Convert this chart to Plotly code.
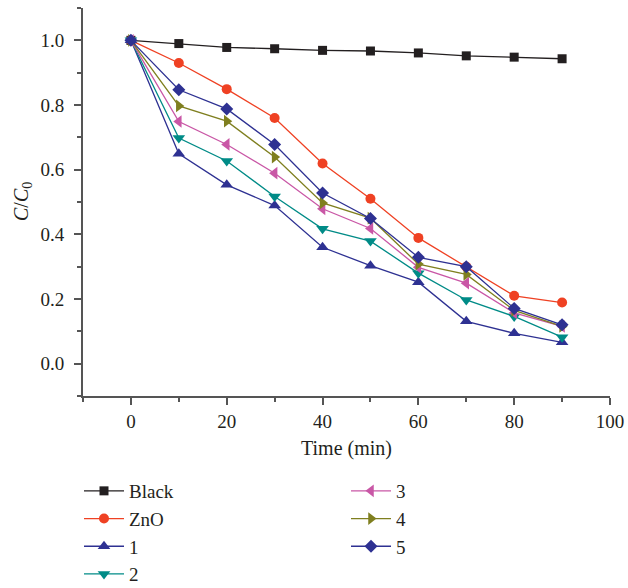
import plotly.graph_objects as go

time = [0, 10, 20, 30, 40, 50, 60, 70, 80, 90]
black = [1.0, 0.99, 0.978, 0.974, 0.969, 0.967, 0.961, 0.952, 0.948, 0.943]
zno = [1.0, 0.93, 0.849, 0.76, 0.619, 0.51, 0.389, 0.30, 0.21, 0.189]
s1 = [1.0, 0.649, 0.553, 0.489, 0.36, 0.303, 0.252, 0.131, 0.094, 0.066]
s2 = [1.0, 0.698, 0.627, 0.517, 0.417, 0.379, 0.28, 0.197, 0.146, 0.082]
s3 = [1.0, 0.749, 0.678, 0.589, 0.479, 0.418, 0.298, 0.249, 0.157, 0.115]
s4 = [1.0, 0.797, 0.75, 0.639, 0.497, 0.45, 0.308, 0.276, 0.165, 0.115]
s5 = [1.0, 0.847, 0.788, 0.678, 0.528, 0.449, 0.329, 0.30, 0.171, 0.12]

names = ["Black", "ZnO", "1", "2", "3", "4", "5"]
series = [black, zno, s1, s2, s3, s4, s5]
colors = ["#231f20", "#ef4123", "#2e3192", "#008b87", "#c957a6", "#7f7f1f", "#2e3192"]
symbols = ["square", "circle", "triangle-up", "triangle-down", "triangle-left", "triangle-right", "diamond"]
sizes = [9, 10, 11, 11, 11, 11, 10]
legends = ["legend", "legend", "legend", "legend", "legend2", "legend2", "legend2"]

FONT = "Liberation Serif"
fig = go.Figure()
for n, y, c, s, sz, lg in zip(names, series, colors, symbols, sizes, legends):
    fig.add_trace(go.Scatter(
        x=time, y=y, name=n, mode="lines+markers",
        line=dict(color=c, width=1.3),
        marker=dict(symbol=s, size=sz, color=c),
        legend=lg, legendgroup=n,
    ))

axis_common = dict(
    showline=True, linecolor="#555555", linewidth=2,
    ticks="outside", ticklen=7, tickwidth=2, tickcolor="#555555",
    showgrid=False, zeroline=False,
    tickfont=dict(family=FONT, size=19, color="#231f20"),
)

legend_common = dict(
    xref="container", yref="container", xanchor="left", yanchor="top",
    orientation="v", tracegroupgap=0, itemwidth=40, bgcolor="rgba(0,0,0,0)",
    font=dict(family=FONT, size=19, color="#231f20"),
)

fig.update_layout(
    width=628, height=588,
    margin=dict(l=83, r=18, t=8, b=192, autoexpand=False),
    paper_bgcolor="white", plot_bgcolor="white",
    font=dict(family=FONT, size=19, color="#231f20"),
    showlegend=True,
    xaxis=dict(range=[-10, 100], tickvals=[0, 20, 40, 60, 80, 100],
               minor=dict(ticks="outside", dtick=10, tick0=0, ticklen=4, tickwidth=2, tickcolor="#555555"),
               title=dict(text="Time (min)", font=dict(family=FONT, size=20), standoff=10),
               **axis_common),
    yaxis=dict(range=[-0.1, 1.1], tickvals=[0, 0.2, 0.4, 0.6, 0.8, 1.0], tickformat=".1f",
               minor=dict(ticks="outside", dtick=0.1, tick0=0, ticklen=4, tickwidth=2, tickcolor="#555555"),
               ticklabelstandoff=6,
               **axis_common),
    legend=dict(x=79 / 628, y=1 - 472 / 588, **legend_common),
    legend2=dict(x=346 / 628, y=1 - 472 / 588, **legend_common),
    annotations=[dict(
        text="<i>C</i>/<i>C</i><sub>0</sub>", textangle=-90,
        xref="paper", yref="paper", x=-(83 - 22) / 527, y=0.5,
        xanchor="center", yanchor="middle", showarrow=False,
        font=dict(family=FONT, size=20, color="#231f20"),
    )],
)

fig.write_html("out.html", config={"displayModeBar": False},
               post_script="document.body.style.margin='0';")
